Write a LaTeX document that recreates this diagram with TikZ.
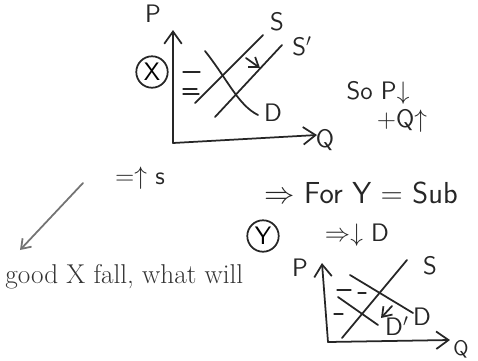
\documentclass[tikz,border=0pt]{standalone}
\usepackage{tikz}
\usetikzlibrary{
  arrows.meta,  % 箭头样式
  positioning   % 节点相对定位
}
\tikzset{
  pen/.style={
    line width=1pt,
    color=black!85,
    line cap=round
  },
  axis/.style={
    pen,
    -{Straight Barb[length=7pt,width=10pt]}
  },
  hand/.style={
    font=\sffamily\Large,
    text=black!85,
    inner sep=1pt
  },
  guide/.style={
    pen,
    line width=0.7pt
  },
  ringed/.style={
    circle,
    draw=black!85,
    line width=1pt,
    inner sep=1.5pt,
    font=\sffamily\Large
  }
}

\begin{document}
\begin{tikzpicture}[x=0.02cm, y=-0.02cm, >={Straight Barb[length=5pt,width=7pt]}]
  \useasboundingbox (0,0) rectangle (478,360);

  % ==== 1. 上方图 X ====
  \begin{scope}
    % 坐标轴
    \coordinate (oX) at (173,143);
    \coordinate (pX) at (173,30);
    \coordinate (qX) at (317,135);
    \draw[axis] (oX) -- (pX);
    \draw[axis] (oX) -- (qX);
    \node[hand] (pLabX) at (153,14) {P};
    \node[hand] (qLabX) at (325,140) {Q};
    \node[ringed] (circX) at (152,72) {X};

    % 供给与需求曲线
    \coordinate (sA) at (195,103);
    \coordinate (sB) at (263,35);
    \coordinate (s2A) at (215,117);
    \coordinate (s2B) at (282,45);
    \coordinate (dA) at (205,51);
    \coordinate (dB) at (258,115);
    \draw[pen] (sA) -- (sB);
    \draw[pen] (s2A) -- (s2B);
    \draw[pen] (dA) .. controls (228,80) and (238,105) .. (dB);
    \node[hand] (sLab) at (277,22) {S};
    \node[hand] (s2Lab) at (302,46) {S$'$};
    \node[hand] (dLab) at (273,113) {D};

    % 移动箭头
    \coordinate (shA) at (246,58);
    \coordinate (shB) at (260,68);
    \draw[pen, ->] (shA) -- (shB);

    % 价格刻度
    \draw[guide] (183,72) -- (200,72);
    \draw[guide] (183,89) -- (197,89);
    \draw[guide] (183,94) -- (199,94);
  \end{scope}

  % ==== 2. 右侧结论 ====
  \node[hand] (soP) at (378,93) {So P$\downarrow$};
  \node[hand] (soQ) at (402,121) {+Q$\uparrow$};

  % ==== 3. 左下箭头与文字 ====
  \coordinate (arA) at (83,183);
  \coordinate (arB) at (20,250);
  \draw[pen, color=black!55, ->] (arA) -- (arB);
  \node[hand] (upS) at (140,178) {$=\uparrow$ s};
  \node[font=\fontsize{15.5}{18}\selectfont, text=black!80, anchor=base west, inner sep=0pt]
    (question) at (5,283) {good X fall, what will};

  % ==== 4. 右下图 Y ====
  \node[hand, font=\sffamily\LARGE] (forY) at (361,193) {$\Rightarrow$ For Y = Sub};
  \node[ringed] (circY) at (263,236) {Y};
  \node[hand] (downD) at (357,235) {$\Rightarrow\downarrow$ D};
  \begin{scope}
    \coordinate (oY) at (328,342);
    \coordinate (pY) at (322,263);
    \coordinate (qY) at (450,340);
    \draw[axis] (oY) -- (pY);
    \draw[axis] (oY) -- (qY);
    \node[hand] (pLabY) at (300,268) {P};
    \node[hand, font=\sffamily\large] (qLabY) at (461,349) {Q};

    \coordinate (syA) at (342,338);
    \coordinate (syB) at (407,260);
    \coordinate (dyA) at (350,275);
    \coordinate (dyB) at (413,313);
    \coordinate (dy2A) at (338,297);
    \coordinate (dy2B) at (378,325);
    \draw[pen] (syA) -- (syB);
    \draw[pen] (dyA) -- (dyB);
    \draw[pen] (dy2A) -- (dy2B);
    \node[hand] (syLab) at (430,266) {S};
    \node[hand] (dyLab) at (422,317) {D};
    \node[hand] (dy2Lab) at (397,326) {D$'$};

    \coordinate (mvA) at (392,306);
    \coordinate (mvB) at (381,318);
    \draw[pen, ->] (mvA) -- (mvB);

    \draw[guide] (337,290) -- (351,290);
    \draw[guide] (358,293) -- (366,293);
    \draw[guide] (334,314) -- (343,314);
  \end{scope}
\end{tikzpicture}
\end{document}
